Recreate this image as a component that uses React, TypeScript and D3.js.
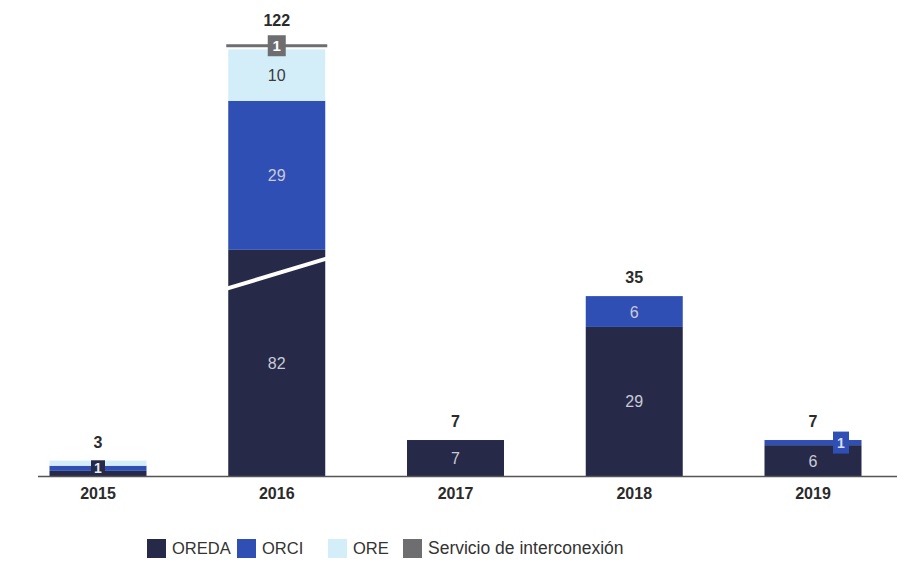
import React from "react";
import * as d3 from "d3";

const years = ["2015", "2016", "2017", "2018", "2019"];
const oreda = [1, 82, 7, 29, 6];
const orci = [1, 29, 0, 6, 1];
const ore = [1, 10, 0, 0, 0];
const servicio = [0, 1, 0, 0, 0];
const totals = [3, 122, 7, 35, 7];
const seriesNames = ["OREDA", "ORCI", "ORE", "Servicio de interconexión"];
const colors = ["#262a48", "#2f4fb4", "#d4eef9", "#6e6e70"];
// broken axis: amount removed from OREDA in 2016
const breakYear = "2016";
const breakAmount = 38;

const W = 897;
const H = 575;
const FONT = "'Liberation Sans', Arial, sans-serif";

export default function App() {
  const x = d3.scalePoint<string>().domain(years).range([98, 813]);
  const bw = 97;
  const y = d3.scaleLinear().domain([0, 84]).range([476, 476 - 84 * 5.14]);
  const seriesData = [oreda, orci, ore, servicio];

  const marks: React.ReactNode[] = [];
  const labels: React.ReactNode[] = [];

  years.forEach((yr, i) => {
    const cx = x(yr)!;
    const left = cx - bw / 2;
    let cum = 0;
    const isBreak = yr === breakYear;
    seriesData.forEach((arr, s) => {
      const v = arr[i];
      if (!v) return;
      let disp = v;
      if (isBreak && s === 0) disp = v - breakAmount;
      const y0 = y(cum);
      const y1 = y(cum + disp);
      cum += disp;
      if (s === 3) {
        marks.push(
          <rect key={`m${i}-${s}`} x={left - 2} y={y1} width={bw + 4} height={3} fill={colors[s]} />
        );
        labels.push(
          <g key={`l${i}-${s}`}>
            <rect x={cx - 9} y={y1 - 9} width={18} height={21} fill={colors[s]} />
            <text x={cx} y={y1 + 7} textAnchor="middle" fontFamily={FONT} fontWeight="bold" fontSize={15} fill="#fff">
              {v}
            </text>
          </g>
        );
        return;
      }
      marks.push(
        <rect key={`m${i}-${s}`} x={left} y={y1} width={bw} height={y0 - y1} fill={colors[s]} />
      );
      const h = y0 - y1;
      if (h >= 18) {
        labels.push(
          <text
            key={`l${i}-${s}`}
            x={cx}
            y={(y0 + y1) / 2 + 6}
            textAnchor="middle"
            fontFamily={FONT}
            fontSize={16}
            fill={s === 2 ? "#3a3a3a" : "#c9cad6"}
          >
            {v}
          </text>
        );
      }
    });
  });

  {
    const i = 0;
    const cx = x(years[i])!;
    const ym = (y(oreda[i]) + y(oreda[i] + orci[i])) / 2;
    labels.push(
      <g key="box2015">
        <rect x={cx - 7} y={ym - 8} width={14} height={16} fill={colors[0]} />
        <text x={cx} y={ym + 5} textAnchor="middle" fontFamily={FONT} fontWeight="bold" fontSize={14} fill="#e8ecf5">
          {orci[i]}
        </text>
      </g>
    );
  }
  {
    const i = 4;
    const cx = x(years[i])! + 28;
    const ym = (y(oreda[i]) + y(oreda[i] + orci[i])) / 2;
    labels.push(
      <g key="box2019">
        <rect x={cx - 8} y={ym - 11} width={16} height={22} fill={colors[1]} />
        <text x={cx} y={ym + 5} textAnchor="middle" fontFamily={FONT} fontWeight="bold" fontSize={14} fill="#d8def5">
          {orci[i]}
        </text>
      </g>
    );
  }

  const bi = years.indexOf(breakYear);
  const bcx = x(breakYear)!;
  const by = y(40);
  const breakLine = (
    <line
      x1={bcx - bw / 2 - 4}
      y1={by + 19}
      x2={bcx + bw / 2 + 12}
      y2={by - 15}
      stroke="#ffffff"
      strokeWidth={4}
    />
  );

  const totalLabels = years.map((yr, i) => {
    let disp = 0;
    seriesData.forEach((arr) => {
      disp += arr[i];
    });
    if (i === bi) disp -= breakAmount;
    return (
      <text
        key={`t${i}`}
        x={x(yr)!}
        y={y(disp) - (i === bi ? 18 : 13)}
        textAnchor="middle"
        fontFamily={FONT}
        fontWeight="bold"
        fontSize={16}
        fill="#2b2b2b"
      >
        {totals[i]}
      </text>
    );
  });

  const legendX = [147, 237, 328, 403];

  return (
    <svg width={W} height={H} style={{ position: "absolute", left: 0, top: 0, background: "#fff" }}>
      <rect width={W} height={H} fill="#fff" />
      {marks}
      {breakLine}
      {labels}
      {totalLabels}
      <line x1={38} x2={897} y1={y(0) + 0.5} y2={y(0) + 0.5} stroke="#555" strokeWidth={1.5} />
      {years.map((yr) => (
        <text
          key={`x${yr}`}
          x={x(yr)!}
          y={499}
          textAnchor="middle"
          fontFamily={FONT}
          fontWeight="bold"
          fontSize={16}
          fill="#2b2b2b"
        >
          {yr}
        </text>
      ))}
      {seriesNames.map((n, s) => (
        <g key={`lg${s}`}>
          <rect x={legendX[s]} y={539} width={19} height={19} fill={colors[s]} />
          <text x={legendX[s] + 25} y={554} fontFamily={FONT} fontSize={s === 3 ? 17.5 : 16.5} fill="#333">
            {n}
          </text>
        </g>
      ))}
    </svg>
  );
}
